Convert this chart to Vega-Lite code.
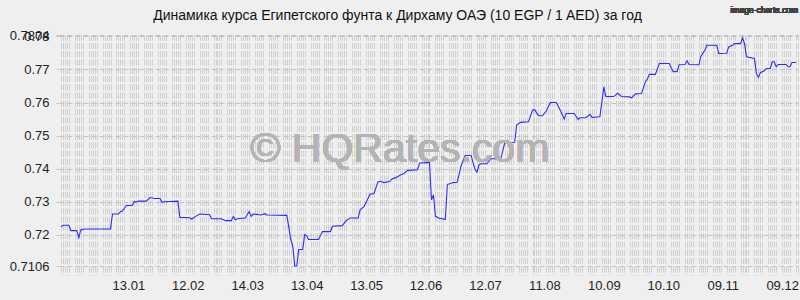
{
  "$schema": "https://vega.github.io/schema/vega-lite/v6.json",
  "autosize": "none",
  "width": 739,
  "height": 231,
  "padding": {"left": 59, "top": 35, "right": 2, "bottom": 34},
  "background": "#efefef",
  "config": {
    "view": {"stroke": null},
    "font": "Liberation Sans",
    "axis": {"labelFont": "Liberation Sans", "labelFontSize": 13, "labelColor": "#222222", "domain": false, "title": null}
  },
  "title": {
    "text": "Динамика курса Египетского фунта к Дирхаму ОАЭ (10 EGP / 1 AED) за год",
    "font": "Liberation Sans",
    "fontSize": 14,
    "fontWeight": "normal",
    "color": "#111111",
    "anchor": "middle",
    "frame": "group",
    "baseline": "alphabetic",
    "dx": -31,
    "offset": -28
  },
  "resolve": {"axis": {"x": "independent", "y": "independent"}},
  "data": {
    "values": [
      {"date": "2012-12-10", "rate": 0.7224},
      {"date": "2012-12-11", "rate": 0.7229},
      {"date": "2012-12-14", "rate": 0.7229},
      {"date": "2012-12-15", "rate": 0.7213},
      {"date": "2012-12-18", "rate": 0.7213},
      {"date": "2012-12-19", "rate": 0.7192},
      {"date": "2012-12-20", "rate": 0.7215},
      {"date": "2012-12-22", "rate": 0.7218},
      {"date": "2013-01-04", "rate": 0.7218},
      {"date": "2013-01-05", "rate": 0.7263},
      {"date": "2013-01-08", "rate": 0.7263},
      {"date": "2013-01-09", "rate": 0.727},
      {"date": "2013-01-10", "rate": 0.7272},
      {"date": "2013-01-12", "rate": 0.7289},
      {"date": "2013-01-15", "rate": 0.7289},
      {"date": "2013-01-16", "rate": 0.7301},
      {"date": "2013-01-17", "rate": 0.7299},
      {"date": "2013-01-18", "rate": 0.7302},
      {"date": "2013-01-22", "rate": 0.7302},
      {"date": "2013-01-24", "rate": 0.7313},
      {"date": "2013-01-26", "rate": 0.731},
      {"date": "2013-01-29", "rate": 0.731},
      {"date": "2013-01-30", "rate": 0.7298},
      {"date": "2013-01-31", "rate": 0.73},
      {"date": "2013-02-03", "rate": 0.7301},
      {"date": "2013-02-07", "rate": 0.7302},
      {"date": "2013-02-08", "rate": 0.7253},
      {"date": "2013-02-13", "rate": 0.7252},
      {"date": "2013-02-14", "rate": 0.7248},
      {"date": "2013-02-16", "rate": 0.7256},
      {"date": "2013-02-18", "rate": 0.7263},
      {"date": "2013-02-23", "rate": 0.7261},
      {"date": "2013-02-24", "rate": 0.7249},
      {"date": "2013-03-01", "rate": 0.7249},
      {"date": "2013-03-03", "rate": 0.7243},
      {"date": "2013-03-06", "rate": 0.7243},
      {"date": "2013-03-07", "rate": 0.7256},
      {"date": "2013-03-08", "rate": 0.7246},
      {"date": "2013-03-09", "rate": 0.7249},
      {"date": "2013-03-13", "rate": 0.7251},
      {"date": "2013-03-15", "rate": 0.7271},
      {"date": "2013-03-16", "rate": 0.7256},
      {"date": "2013-03-17", "rate": 0.7263},
      {"date": "2013-03-21", "rate": 0.726},
      {"date": "2013-03-23", "rate": 0.7264},
      {"date": "2013-03-24", "rate": 0.726},
      {"date": "2013-04-03", "rate": 0.7259},
      {"date": "2013-04-05", "rate": 0.7186},
      {"date": "2013-04-06", "rate": 0.7166},
      {"date": "2013-04-07", "rate": 0.7106},
      {"date": "2013-04-08", "rate": 0.7106},
      {"date": "2013-04-09", "rate": 0.7156},
      {"date": "2013-04-11", "rate": 0.7156},
      {"date": "2013-04-12", "rate": 0.7201},
      {"date": "2013-04-13", "rate": 0.7198},
      {"date": "2013-04-14", "rate": 0.7186},
      {"date": "2013-04-19", "rate": 0.7186},
      {"date": "2013-04-21", "rate": 0.721},
      {"date": "2013-04-25", "rate": 0.721},
      {"date": "2013-04-26", "rate": 0.7226},
      {"date": "2013-05-01", "rate": 0.7228},
      {"date": "2013-05-03", "rate": 0.7243},
      {"date": "2013-05-05", "rate": 0.7251},
      {"date": "2013-05-09", "rate": 0.7251},
      {"date": "2013-05-10", "rate": 0.7276},
      {"date": "2013-05-12", "rate": 0.7286},
      {"date": "2013-05-15", "rate": 0.7323},
      {"date": "2013-05-17", "rate": 0.7325},
      {"date": "2013-05-19", "rate": 0.736},
      {"date": "2013-05-20", "rate": 0.7362},
      {"date": "2013-05-22", "rate": 0.7358},
      {"date": "2013-05-25", "rate": 0.7361},
      {"date": "2013-05-26", "rate": 0.7369},
      {"date": "2013-05-28", "rate": 0.7373},
      {"date": "2013-05-31", "rate": 0.7383},
      {"date": "2013-06-01", "rate": 0.7385},
      {"date": "2013-06-03", "rate": 0.7395},
      {"date": "2013-06-08", "rate": 0.7397},
      {"date": "2013-06-09", "rate": 0.7417},
      {"date": "2013-06-14", "rate": 0.7419},
      {"date": "2013-06-15", "rate": 0.7306},
      {"date": "2013-06-16", "rate": 0.7321},
      {"date": "2013-06-17", "rate": 0.7256},
      {"date": "2013-06-19", "rate": 0.725},
      {"date": "2013-06-22", "rate": 0.7247},
      {"date": "2013-06-23", "rate": 0.7352},
      {"date": "2013-06-26", "rate": 0.7358},
      {"date": "2013-06-28", "rate": 0.7359},
      {"date": "2013-06-30", "rate": 0.741},
      {"date": "2013-07-02", "rate": 0.744},
      {"date": "2013-07-05", "rate": 0.744},
      {"date": "2013-07-07", "rate": 0.7397},
      {"date": "2013-07-08", "rate": 0.739},
      {"date": "2013-07-09", "rate": 0.7412},
      {"date": "2013-07-10", "rate": 0.7415},
      {"date": "2013-07-13", "rate": 0.7415},
      {"date": "2013-07-15", "rate": 0.743},
      {"date": "2013-07-20", "rate": 0.743},
      {"date": "2013-07-22", "rate": 0.7479},
      {"date": "2013-07-27", "rate": 0.748},
      {"date": "2013-07-28", "rate": 0.7532},
      {"date": "2013-07-30", "rate": 0.754},
      {"date": "2013-08-03", "rate": 0.7542},
      {"date": "2013-08-05", "rate": 0.7577},
      {"date": "2013-08-06", "rate": 0.7579},
      {"date": "2013-08-08", "rate": 0.756},
      {"date": "2013-08-10", "rate": 0.756},
      {"date": "2013-08-12", "rate": 0.7575},
      {"date": "2013-08-14", "rate": 0.76},
      {"date": "2013-08-17", "rate": 0.76},
      {"date": "2013-08-19", "rate": 0.7577},
      {"date": "2013-08-21", "rate": 0.755},
      {"date": "2013-08-22", "rate": 0.7567},
      {"date": "2013-08-26", "rate": 0.7567},
      {"date": "2013-08-28", "rate": 0.7549},
      {"date": "2013-08-29", "rate": 0.7554},
      {"date": "2013-09-01", "rate": 0.7554},
      {"date": "2013-09-03", "rate": 0.7564},
      {"date": "2013-09-04", "rate": 0.7555},
      {"date": "2013-09-08", "rate": 0.7557},
      {"date": "2013-09-10", "rate": 0.7647},
      {"date": "2013-09-11", "rate": 0.7618},
      {"date": "2013-09-15", "rate": 0.7618},
      {"date": "2013-09-17", "rate": 0.7628},
      {"date": "2013-09-19", "rate": 0.7618},
      {"date": "2013-09-23", "rate": 0.7617},
      {"date": "2013-09-24", "rate": 0.7614},
      {"date": "2013-09-26", "rate": 0.7626},
      {"date": "2013-09-29", "rate": 0.7627},
      {"date": "2013-10-01", "rate": 0.7663},
      {"date": "2013-10-02", "rate": 0.7671},
      {"date": "2013-10-03", "rate": 0.7685},
      {"date": "2013-10-06", "rate": 0.7685},
      {"date": "2013-10-08", "rate": 0.7718},
      {"date": "2013-10-13", "rate": 0.7718},
      {"date": "2013-10-15", "rate": 0.7693},
      {"date": "2013-10-17", "rate": 0.7694},
      {"date": "2013-10-18", "rate": 0.7714},
      {"date": "2013-10-21", "rate": 0.7715},
      {"date": "2013-10-22", "rate": 0.7726},
      {"date": "2013-10-23", "rate": 0.7715},
      {"date": "2013-10-28", "rate": 0.7714},
      {"date": "2013-10-29", "rate": 0.774},
      {"date": "2013-10-31", "rate": 0.7758},
      {"date": "2013-11-01", "rate": 0.7773},
      {"date": "2013-11-06", "rate": 0.7773},
      {"date": "2013-11-07", "rate": 0.7748},
      {"date": "2013-11-11", "rate": 0.7749},
      {"date": "2013-11-12", "rate": 0.7768},
      {"date": "2013-11-14", "rate": 0.7773},
      {"date": "2013-11-15", "rate": 0.7778},
      {"date": "2013-11-18", "rate": 0.7778},
      {"date": "2013-11-19", "rate": 0.7795},
      {"date": "2013-11-20", "rate": 0.7778},
      {"date": "2013-11-21", "rate": 0.7738},
      {"date": "2013-11-25", "rate": 0.7733},
      {"date": "2013-11-26", "rate": 0.7688},
      {"date": "2013-11-27", "rate": 0.7676},
      {"date": "2013-11-28", "rate": 0.769},
      {"date": "2013-11-30", "rate": 0.7696},
      {"date": "2013-12-01", "rate": 0.7703},
      {"date": "2013-12-03", "rate": 0.7703},
      {"date": "2013-12-04", "rate": 0.7723},
      {"date": "2013-12-05", "rate": 0.7723},
      {"date": "2013-12-06", "rate": 0.7708},
      {"date": "2013-12-07", "rate": 0.7715},
      {"date": "2013-12-11", "rate": 0.7715},
      {"date": "2013-12-12", "rate": 0.7708},
      {"date": "2013-12-13", "rate": 0.7708},
      {"date": "2013-12-14", "rate": 0.7721},
      {"date": "2013-12-16", "rate": 0.7721}
    ]
  },
  "layer": [
    {
      "mark": {"type": "line", "color": "#2b2bff", "strokeWidth": 1.1, "interpolate": "linear"},
      "encoding": {
        "x": {
          "field": "date",
          "type": "temporal",
          "scale": {"type": "utc", "domain": [{"year": 2012, "month": 12, "date": 9, "utc": true}, {"year": 2013, "month": 12, "date": 17, "utc": true}]},
          "axis": {
            "tickCount": {"interval": "day", "step": 1},
            "format": "%d.%m",
            "formatType": "utc",
            "labelExpr": "utcyear(datum.value) == 2013 && indexof(['13.01','12.02','14.03','13.04','13.05','12.06','12.07','11.08','10.09','10.10','09.11','09.12'], utcFormat(datum.value, '%d.%m')) >= 0 ? utcFormat(datum.value, '%d.%m') : ''",
            "labelOverlap": false,
            "labelFlush": false,
            "labelBound": false,
            "grid": true,
            "gridColor": {"condition": {"test": "utcday(datum.value) == 0 || utcday(datum.value) == 6", "value": "transparent"}, "value": "#cfcfcf"},
            "gridWidth": 1,
            "gridDash": [6, 2.27],
            "gridDashOffset": 0.75,
            "ticks": true,
            "tickSize": 9,
            "tickColor": {"condition": {"test": "utcday(datum.value) == 0 || utcday(datum.value) == 6", "value": "transparent"}, "value": "#cfcfcf"},
            "tickDash": [6, 2.27],
            "labelPadding": 4
          }
        },
        "y": {
          "field": "rate",
          "type": "quantitative",
          "scale": {"domain": [0.7106, 0.7804], "nice": false, "zero": false},
          "axis": {
            "values": [0.7106, 0.72, 0.73, 0.74, 0.75, 0.76, 0.77, 0.78, 0.7804],
            "format": ".4~g",
            "labelOverlap": false,
            "labelFlush": false,
            "labelBound": false,
            "grid": true,
            "gridColor": "#c4c4c4",
            "gridDash": [5, 3],
            "ticks": true,
            "tickSize": 5,
            "tickColor": "#c4c4c4",
            "tickDash": [3, 2],
            "labelPadding": 5
          }
        }
      }
    },
    {
      "mark": {"type": "text", "fontSize": 41, "font": "Liberation Sans", "color": "#b4b4b4", "opacity": 0.5, "align": "center", "baseline": "middle"},
      "encoding": {
        "x": {"datum": {"year": 2013, "month": 5, "date": 30, "utc": true}, "type": "temporal", "axis": null},
        "y": {"datum": 0.7458, "type": "quantitative", "axis": null},
        "text": {"value": "© HQRates.com"}
      }
    },
    {
      "mark": {"type": "text", "fontSize": 8.5, "font": "Liberation Sans", "color": "#444444", "align": "right", "baseline": "middle"},
      "encoding": {
        "x": {"datum": {"year": 2013, "month": 12, "date": 17, "utc": true}, "type": "temporal", "axis": null},
        "y": {"datum": 0.78796, "type": "quantitative", "axis": null},
        "text": {"value": "image-charts.com"}
      }
    }
  ]
}
